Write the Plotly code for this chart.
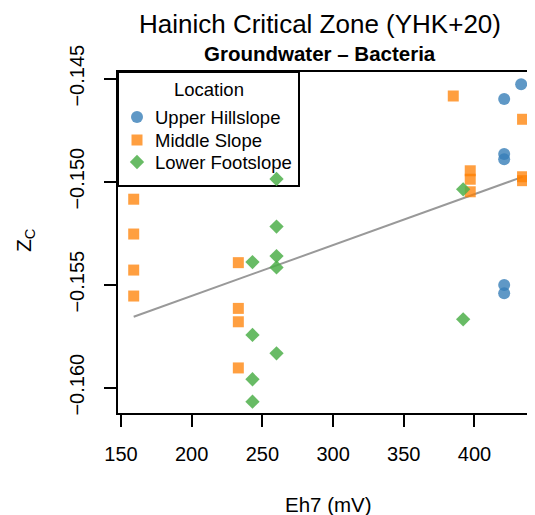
import numpy as np
import plotly.graph_objects as go

# ---- data ----
groups = ["Upper Hillslope", "Middle Slope", "Lower Footslope"]
upper_eh7 = [421, 421, 421, 421, 421, 433]
upper_zc = [-0.14599, -0.14866, -0.14891, -0.15502, -0.15542, -0.14527]
middle_eh7 = [159, 159, 159, 159, 233, 233, 233, 233, 385, 397, 397, 397, 434, 434, 434]
middle_zc = [-0.15085, -0.15254, -0.15429, -0.15555, -0.15393, -0.15615, -0.15680,
             -0.15904, -0.14584, -0.14947, -0.14988, -0.15049, -0.14697, -0.14976, -0.14995]
lower_eh7 = [243, 243, 243, 243, 260, 260, 260, 260, 260, 392, 392]
lower_zc = [-0.15390, -0.15744, -0.15959, -0.16068, -0.14987, -0.15218, -0.15361,
            -0.15416, -0.15833, -0.15037, -0.15668]
x_ticks = [150, 200, 250, 300, 350, 400]
y_ticks = [-0.160, -0.155, -0.150, -0.145]
y_tick_labels = ["\u22120.160", "\u22120.155", "\u22120.150", "\u22120.145"]

FONT = "Liberation Sans, Arial, Helvetica, sans-serif"
colors = ["rgba(55,126,184,0.8)", "rgba(255,127,0,0.75)", "rgba(77,175,74,0.85)"]
symbols = ["circle", "square", "diamond"]
sizes = [12, 11, 11]

# page body has an 8px margin: figure is shifted by 8px, plot area kept at ref position
OFF = 8
PL, PR, PT, PB = 118, 535, 72, 413          # plot area in window pixels
PW, PH = PR - PL, PB - PT

fig = go.Figure()
series = [(upper_eh7, upper_zc), (middle_eh7, middle_zc), (lower_eh7, lower_zc)]

# regression line over all points
all_x = np.array(upper_eh7 + middle_eh7 + lower_eh7, dtype=float)
all_y = np.array(upper_zc + middle_zc + lower_zc, dtype=float)
slope, intercept = np.polyfit(all_x, all_y, 1)
lx = np.array([all_x.min(), all_x.max()])
fig.add_trace(go.Scatter(x=lx, y=slope * lx + intercept, mode="lines",
                         line=dict(color="#999999", width=2), showlegend=False,
                         hoverinfo="skip"))

for name, (xs, ys), c, s, sz in zip(groups, series, colors, symbols, sizes):
    fig.add_trace(go.Scatter(x=xs, y=ys, mode="markers", name=name, showlegend=False,
                             marker=dict(color=c, symbol=s, size=sz, line=dict(width=0))))

# ---- custom legend on a pixel-space overlay axis ----
leg_x0, leg_x1, leg_y0, leg_y1 = 118, 299, 72, 186
leg_sym_x, leg_txt_x = 137, 153
leg_item_y = [117, 140, 162]
for name, c, s, sz, yy in zip(groups, colors, symbols, sizes, leg_item_y):
    fig.add_trace(go.Scatter(x=[leg_sym_x], y=[yy], xaxis="x2", yaxis="y2",
                             mode="markers", showlegend=False, hoverinfo="skip",
                             marker=dict(color=c, symbol=s, size=sz, line=dict(width=0))))

annotations = [
    dict(text="Hainich Critical Zone (YHK+20)", xref="paper", yref="paper",
         x=(320 - PL) / PW, y=(PB - 24) / PH, xanchor="center", yanchor="middle",
         showarrow=False, font=dict(size=26)),
    dict(text="<b>Groundwater \u2013 Bacteria</b>", xref="paper", yref="paper",
         x=(320 - PL) / PW, y=(PB - 53) / PH, xanchor="center", yanchor="middle",
         showarrow=False, font=dict(size=20.5)),
    dict(text="Eh7 (mV)", xref="paper", yref="paper",
         x=(328 - PL) / PW, y=(PB - 504) / PH, xanchor="center", yanchor="middle",
         showarrow=False, font=dict(size=20.5)),
    dict(text="Z<sub>C</sub>", xref="paper", yref="paper", textangle=-90,
         x=(25 - PL) / PW, y=(PB - 240) / PH, xanchor="center", yanchor="middle",
         showarrow=False, font=dict(size=21)),
    dict(text="Location", xref="x2", yref="y2", x=(leg_x0 + leg_x1) / 2, y=89,
         xanchor="center", yanchor="middle", showarrow=False, font=dict(size=18.5)),
]
for name, yy in zip(groups, leg_item_y):
    annotations.append(dict(text=name, xref="x2", yref="y2", x=leg_txt_x, y=yy,
                            xanchor="left", yanchor="middle", showarrow=False,
                            font=dict(size=18.5)))

fig.update_layout(
    width=535 - OFF, height=515 - OFF,
    margin=dict(l=PL - OFF, r=0, t=PT - OFF, b=(515 - OFF) - (PB - OFF)),
    plot_bgcolor="white", paper_bgcolor="white",
    font=dict(family=FONT, color="black", size=20),
    showlegend=False,
    xaxis=dict(range=[147.9, 442.8], showgrid=False, zeroline=False,
               showline=True, linecolor="black", linewidth=2, mirror=True,
               ticks="outside", ticklen=12, tickwidth=2, tickcolor="black",
               tickvals=x_ticks, tickfont=dict(size=20), ticklabelstandoff=10),
    yaxis=dict(range=[-0.161228, -0.144675], showgrid=False, zeroline=False,
               showline=True, linecolor="black", linewidth=2,
               ticks="outside", ticklen=12, tickwidth=2, tickcolor="black",
               tickvals=y_ticks, ticktext=y_tick_labels, tickangle=-90,
               tickfont=dict(size=20), ticklabelstandoff=12),
    xaxis2=dict(overlaying="x", range=[PL, PR], visible=False, fixedrange=True),
    yaxis2=dict(overlaying="y", range=[PB, PT], visible=False, fixedrange=True),
    shapes=[dict(type="rect", xref="x2", yref="y2", x0=leg_x0, x1=leg_x1,
                 y0=leg_y0, y1=leg_y1, line=dict(color="black", width=2),
                 fillcolor="rgba(0,0,0,0)", layer="below")],
    annotations=annotations,
)

fig.write_html("out.html")
